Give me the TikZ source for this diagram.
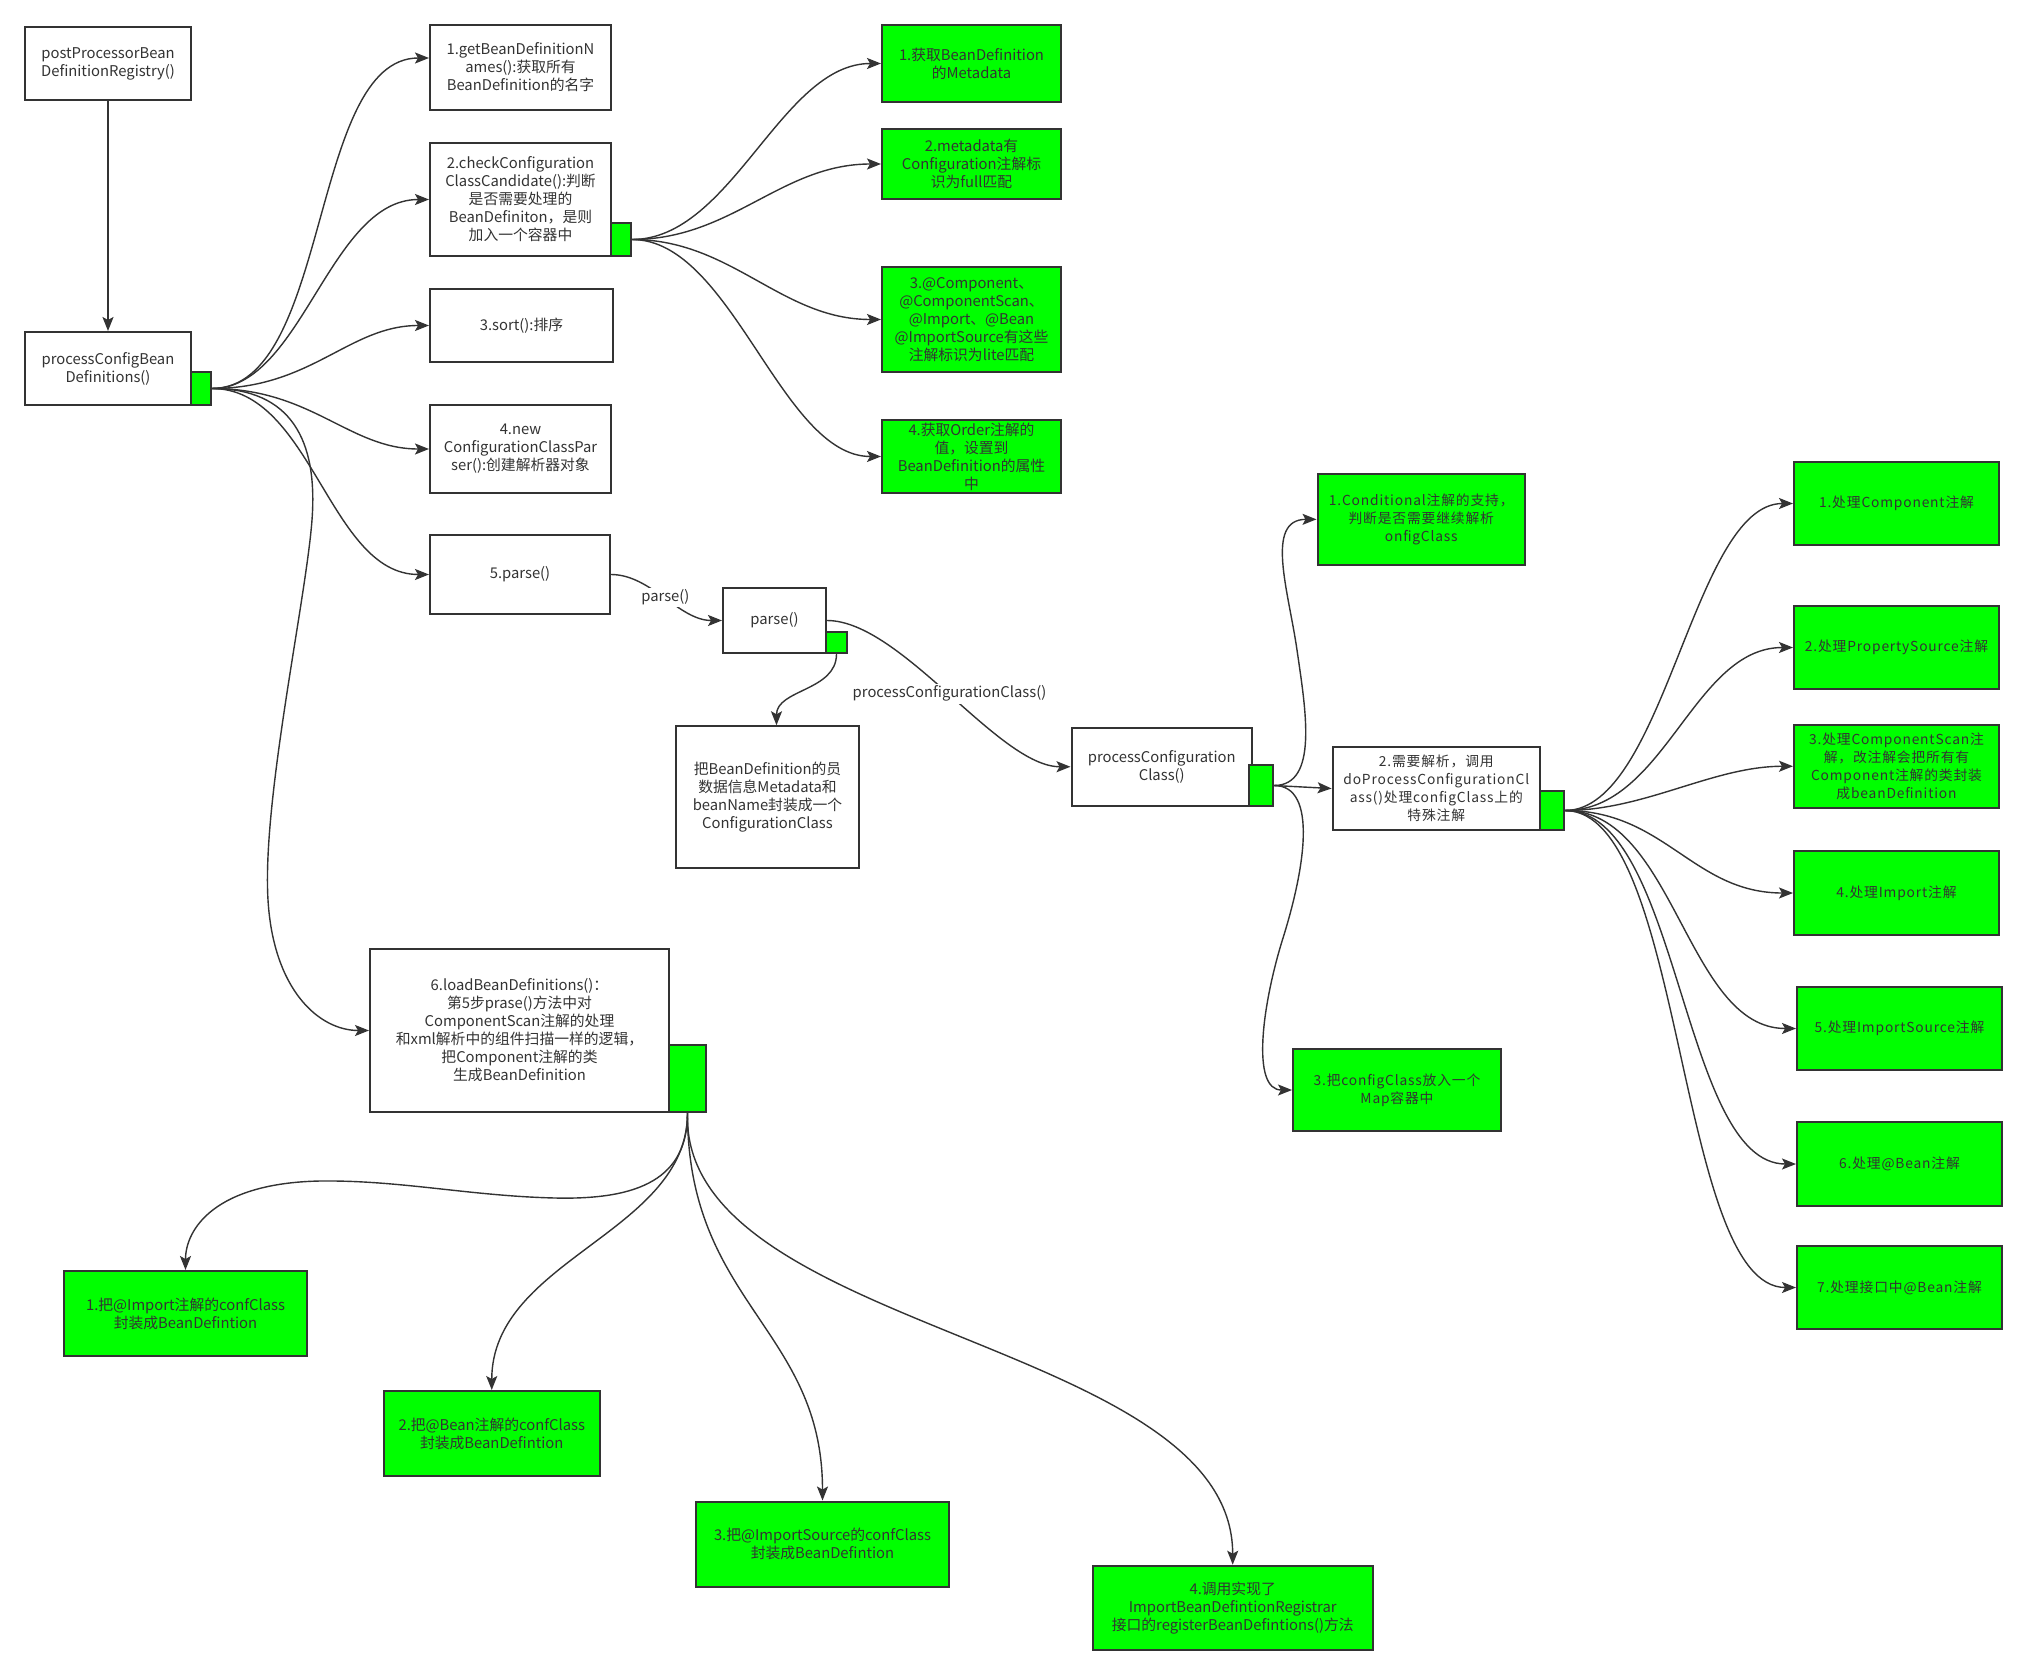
\documentclass[tikz,border=0pt]{standalone}
\usepackage{fontspec}
\setmainfont{Noto Sans CJK SC}
\newfontfamily\gfont[LetterSpace=6]{Noto Sans CJK SC}
\usetikzlibrary{arrows.meta}
\definecolor{ln}{HTML}{333333}
\definecolor{gr}{HTML}{00FF00}
\begin{document}
\begin{tikzpicture}[x=1pt,y=-1pt,
  every node/.style={font=\fontsize{14.8}{18}\selectfont, text=ln, align=center, inner sep=0pt},
  wbox/.style={draw=ln, line width=2pt, fill=white},
  gbox/.style={draw=ln, line width=2pt, fill=gr},
  gsp/.style={gbox, font=\gfont\fontsize{13.8}{18}\selectfont},
  sq/.style={draw=ln, line width=2pt, fill=gr},
  arr/.style={draw=ln, line width=1.4pt, -{Stealth[length=14pt,width=11pt,inset=3pt]}},
  lbl/.style={fill=white, inner sep=2pt}]
\useasboundingbox (0,0) rectangle (2031,1672);
\fill[white] (0,0) rectangle (2031,1672);

% left column
\node[wbox, minimum width=166pt, minimum height=73pt] (pp) at (108,63.5) {postProcessorBean\\DefinitionRegistry()};
\node[wbox, minimum width=166pt, minimum height=73pt] (pcb) at (108,368.5) {processConfigBean\\Definitions()};
\node[sq, minimum width=20pt, minimum height=33pt] (pcbsq) at (201,388.5) {};

% steps
\node[wbox, minimum width=181pt, minimum height=85pt] (n1) at (520.5,67.5) {1.getBeanDefinitionN\\ames():获取所有\\BeanDefinition的名字};
\node[wbox, minimum width=181pt, minimum height=113pt] (n2) at (520.5,199.5) {2.checkConfiguration\\ClassCandidate():判断\\是否需要处理的\\BeanDefiniton，是则\\加入一个容器中};
\node[sq, minimum width=20pt, minimum height=33pt] (n2sq) at (621,239.5) {};
\node[wbox, minimum width=183pt, minimum height=73pt] (n3) at (521.5,325.5) {3.sort():排序};
\node[wbox, minimum width=181pt, minimum height=88pt] (n4) at (520.5,449) {4.new\\ConfigurationClassPar\\ser():创建解析器对象};
\node[wbox, minimum width=180pt, minimum height=79pt] (n5) at (520,574.5) {5.parse()};
\node[wbox, minimum width=103pt, minimum height=65pt] (ps) at (774.5,620.5) {parse()};
\node[sq, minimum width=21pt, minimum height=21pt] (pssq) at (836.5,642.5) {};
\node[wbox, minimum width=183pt, minimum height=141.5pt] (cc) at (767.5,797) {把BeanDefinition的员\\数据信息Metadata和\\beanName封装成一个\\ConfigurationClass};
\node[wbox, minimum width=299pt, minimum height=163pt] (n6) at (519.5,1030.5) {6.loadBeanDefinitions()：\\第5步prase()方法中对\\ComponentScan注解的处理\\和xml解析中的组件扫描一样的逻辑，\\把Component注解的类\\生成BeanDefinition};
\node[sq, minimum width=37pt, minimum height=67pt] (n6sq) at (687.5,1078.5) {};

% green boxes of step 2
\node[gbox, minimum width=179pt, minimum height=77pt] (g1) at (971.5,63.5) {1.获取BeanDefinition\\的Metadata};
\node[gbox, minimum width=179pt, minimum height=70pt] (g2) at (971.5,164) {2.metadata有\\Configuration注解标\\识为full匹配};
\node[gbox, minimum width=179pt, minimum height=105pt] (g3) at (971.5,319.5) {\raisebox{6pt}{\parbox{179pt}{\centering 3.@Component、\\@ComponentScan、\\@Import、@Bean\\@ImportSource有这些\\注解标识为lite匹配}}};
\node[gbox, minimum width=179pt, minimum height=73pt] (g4) at (971.5,456.5) {4.获取Order注解的\\值，设置到\\BeanDefinition的属性\\中};

% processConfigurationClass
\node[wbox, minimum width=180.5pt, minimum height=78.5pt] (pcc) at (1161.75,766.75) {processConfiguration\\Class()};
\node[sq, minimum width=24pt, minimum height=41pt] (pccsq) at (1261,785.5) {};
\node[gsp, minimum width=207.5pt, minimum height=91.3pt] (c1) at (1421.25,519.35) {1.Conditional注解的支持，\\判断是否需要继续解析\\onfigClass};
\node[wbox, font=\gfont\fontsize{13.8}{18}\selectfont, minimum width=207.4pt, minimum height=83pt] (c2) at (1436.3,788.5) {2.需要解析，调用\\doProcessConfigurationCl\\ass()处理configClass上的\\特殊注解};
\node[sq, minimum width=24pt, minimum height=39pt] (c2sq) at (1552,810.5) {};
\node[gsp, minimum width=208pt, minimum height=82pt] (c3) at (1397,1090) {3.把configClass放入一个\\Map容器中};

% right column
\node[gsp, minimum width=205pt, minimum height=83pt] (r1) at (1896.5,503.5) {1.处理Component注解};
\node[gsp, minimum width=205pt, minimum height=83pt] (r2) at (1896.5,647.5) {2.处理PropertySource注解};
\node[gsp, minimum width=205pt, minimum height=83.5pt] (r3) at (1896.5,766.25) {3.处理ComponentScan注\\解，改注解会把所有有\\Component注解的类封装\\成beanDefinition};
\node[gsp, minimum width=205pt, minimum height=84pt] (r4) at (1896.5,893) {4.处理Import注解};
\node[gsp, minimum width=205pt, minimum height=83pt] (r5) at (1899.5,1028.5) {5.处理ImportSource注解};
\node[gsp, minimum width=205pt, minimum height=84pt] (r6) at (1899.5,1164) {6.处理@Bean注解};
\node[gsp, minimum width=205pt, minimum height=83pt] (r7) at (1899.5,1287.5) {7.处理接口中@Bean注解};

% bottom
\node[gbox, minimum width=243pt, minimum height=85pt] (b1) at (185.5,1313.5) {1.把@Import注解的confClass\\封装成BeanDefintion};
\node[gbox, minimum width=215.5pt, minimum height=85pt] (b2) at (491.75,1433.5) {2.把@Bean注解的confClass\\封装成BeanDefintion};
\node[gbox, minimum width=253pt, minimum height=85pt] (b3) at (822.5,1544) {3.把@ImportSource的confClass\\封装成BeanDefintion};
\node[gbox, minimum width=280pt, minimum height=84.3pt] (b4) at (1232.7,1607.85) {4.调用实现了\\ImportBeanDefintionRegistrar\\接口的registerBeanDefintions()方法};

% connectors
\draw[arr] (pp) -- (pcb);
\draw[arr] (pcbsq.east) .. controls +(119,0) and +(-120,0) .. ([yshift=9.5pt]n1.west);
\draw[arr] (pcbsq.east) .. controls +(90,0) and +(-100,0) .. (n2.west);
\draw[arr] (pcbsq.east) .. controls +(100,0) and +(-80,0) .. (n3.west);
\draw[arr] (pcbsq.east) .. controls +(100,0) and +(-80,0) .. (n4.west);
\draw[arr] (pcbsq.east) .. controls +(100,0) and +(-100,0) .. (n5.west);
\draw[arr] (pcbsq.east) .. controls +(79,0) and (318,440) .. (312,520)
  .. controls (306,600) and (262,800) .. (268,900)
  .. controls (273.4,990) and +(-50,0) .. (n6.west);

\draw[arr] (n2sq.east) .. controls +(100,0) and +(-100,0) .. (g1.west);
\draw[arr] (n2sq.east) .. controls +(100,0) and +(-100,0) .. (g2.west);
\draw[arr] (n2sq.east) .. controls +(100,0) and +(-100,0) .. (g3.west);
\draw[arr] (n2sq.east) .. controls +(100,0) and +(-100,0) .. (g4.west);

\draw[arr] (n5.east) .. controls +(40,0) and +(-43,0) .. node[lbl, pos=0.5] {parse()} (ps.west);
\draw[arr] (pssq.south) .. controls +(0,37) and +(0,-36) .. ([xshift=9pt]cc.north);
\draw[arr] (ps.east) .. controls +(74,0) and +(-72,0) .. node[lbl, pos=0.5] {processConfigurationClass()} (pcc.west);

\draw[arr] (pccsq.east) .. controls +(45,0) and (1305.5,709) .. (1297,650)
  .. controls (1288.5,591) and +(-52,0) .. (c1.west);
\draw[arr] (pccsq.east) -- (c2.west);
\draw[arr] (pccsq.east) .. controls +(45,0) and (1304,871) .. (1283,938)
  .. controls (1262,1005) and +(-41,0) .. (c3.west);

\draw[arr] (c2sq.east) .. controls +(100,0) and +(-100,0) .. (r1.west);
\draw[arr] (c2sq.east) .. controls +(100,0) and +(-100,0) .. (r2.west);
\draw[arr] (c2sq.east) .. controls +(80,0) and +(-80,0) .. (r3.west);
\draw[arr] (c2sq.east) .. controls +(100,0) and +(-100,0) .. (r4.west);
\draw[arr] (c2sq.east) .. controls +(110,0) and +(-110,0) .. (r5.west);
\draw[arr] (c2sq.east) .. controls +(115,0) and +(-115,0) .. (r6.west);
\draw[arr] (c2sq.east) .. controls +(120,0) and +(-120,0) .. (r7.west);

\draw[arr] (n6sq.south) .. controls +(0,65) and (640,1200) .. (555,1198)
  .. controls (470,1196) and (400,1180) .. (320,1181)
  .. controls (215,1183) and +(0,-41) .. (b1.north);
\draw[arr] (n6sq.south) .. controls +(0,120) and +(0,-131) .. (b2.north);
\draw[arr] (n6sq.south) .. controls +(0,190) and +(0,-171.5) .. (b3.north);
\draw[arr] (n6sq.south) .. controls +(-7.5,220) and +(0,-225.7) .. (b4.north);
\end{tikzpicture}
\end{document}
